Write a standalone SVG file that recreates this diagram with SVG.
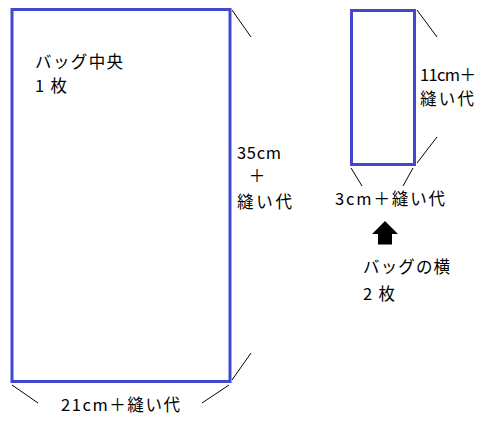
<svg xmlns="http://www.w3.org/2000/svg" width="498" height="440" viewBox="0 0 498 440">
<style>
.panel{fill:#ffffff;stroke:#4048d0;stroke-width:3}
.dim{stroke:#000000;stroke-width:1;fill:none}
.t{font-family:"Noto Sans CJK JP","Noto Sans",sans-serif;font-size:16.5px;fill:#000000}
</style>
<rect width="498" height="440" fill="#ffffff"/>
<g id="connectors">
<line class="dim" x1="232" y1="10" x2="251" y2="37"/>
<line class="dim" x1="232" y1="380" x2="251" y2="353"/>
<line class="dim" x1="12" y1="385" x2="38" y2="403"/>
<line class="dim" x1="229" y1="385" x2="202" y2="403"/>
<line class="dim" x1="417" y1="10" x2="437" y2="37"/>
<line class="dim" x1="437" y1="137" x2="417" y2="163"/>
<line class="dim" x1="351" y1="168" x2="362" y2="186"/>
<line class="dim" x1="413" y1="168" x2="403" y2="186"/>
</g>
<g id="center-panel">
<rect class="panel" x="12" y="9.5" width="218" height="372"/>
<text class="t" x="35" y="68" textLength="88" lengthAdjust="spacing">バッグ中央</text>
<text class="t" x="35" y="92" textLength="32" lengthAdjust="spacing">1枚</text>
</g>
<g id="center-height-label">
<text class="t" x="237" y="159" textLength="44" lengthAdjust="spacing">35cm</text>
<text class="t" x="257" y="182" text-anchor="middle">＋</text>
<text class="t" x="237" y="208" textLength="55" lengthAdjust="spacing">縫い代</text>
</g>
<g id="center-width-label">
<text class="t" x="61" y="411" textLength="119" lengthAdjust="spacing">21cm＋縫い代</text>
</g>
<g id="side-panel">
<rect class="panel" x="351.5" y="10.5" width="63" height="154"/>
</g>
<g id="side-height-label">
<text class="t" x="420" y="81" textLength="56" lengthAdjust="spacing">11cm＋</text>
<text class="t" x="420" y="105" textLength="54" lengthAdjust="spacing">縫い代</text>
</g>
<g id="side-width-label">
<text class="t" x="335" y="205" textLength="110" lengthAdjust="spacing">3cm＋縫い代</text>
</g>
<g id="side-arrow">
<polygon points="385,221 398,234 392,234 392,244.5 378,244.5 378,234 372,234" fill="#000000"/>
</g>
<g id="side-caption">
<text class="t" x="363" y="273" textLength="87" lengthAdjust="spacing">バッグの横</text>
<text class="t" x="363" y="300" textLength="32" lengthAdjust="spacing">2枚</text>
</g>
</svg>
